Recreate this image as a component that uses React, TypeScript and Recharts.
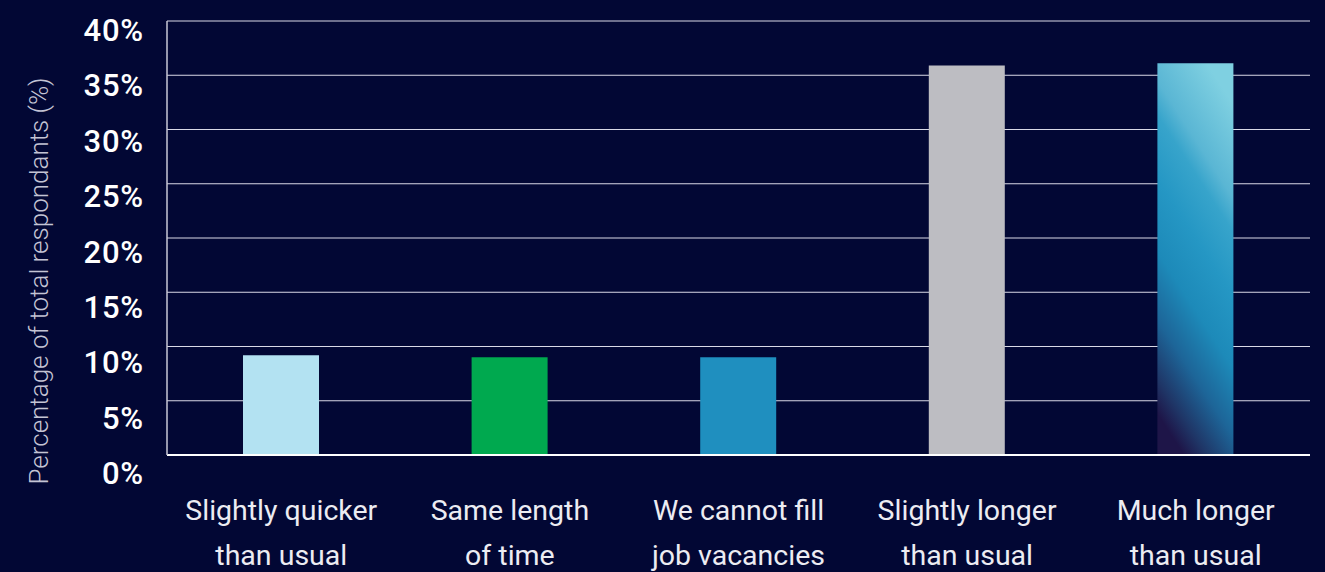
import React from 'react';
import { BarChart, Bar, XAxis, YAxis, CartesianGrid, Cell, Label } from 'recharts';

// Antwortkategorien (zweizeilig beschriftet)
const categories = [
  ['Slightly quicker', 'than usual'],
  ['Same length', 'of time'],
  ['We cannot fill', 'job vacancies'],
  ['Slightly longer', 'than usual'],
  ['Much longer', 'than usual'],
];

// Anteil der Befragten in Prozent
const shares = [9.2, 9.0, 9.0, 35.9, 36.1];

const barColors = ['#b3e2f2', '#00a94f', '#1f8fbf', '#bdbdc2', 'url(#longGradient)'];

const yTicks = [0, 5, 10, 15, 20, 25, 30, 35, 40];

const data = categories.map((c, i) => ({ name: c.join(' '), lines: c, value: shares[i] }));

const BG = '#020734';
const FONT = 'Roboto, "Noto Sans", sans-serif';

const XTick = (props: any) => {
  const { x, y, payload } = props;
  const lines = categories[payload.index] || [payload.value];
  return (
    <text x={x} y={y} textAnchor="middle" fill="#ececf2" fontSize={28.5} fontFamily={FONT}>
      {lines.map((l: string, i: number) => (
        <tspan key={i} x={x} y={y + 57 + i * 45}>
          {l}
        </tspan>
      ))}
    </text>
  );
};

const YTick = (props: any) => {
  const { x, y, payload } = props;
  // Beschriftungen sitzen leicht unterhalb der Rasterlinien
  const shift = 29 - (payload.value / 40) * 9;
  return (
    <text x={x} y={y + shift} textAnchor="end" fill="#ffffff" fontSize={31} fontWeight={500} fontFamily={FONT} letterSpacing={0.8}>
      {`${payload.value}%`}
    </text>
  );
};

export default function App() {
  return (
    <div style={{ position: 'absolute', left: 0, top: 0, width: 1325, height: 572, background: BG }}>
      <BarChart width={1325} height={572} data={data} margin={{ top: 21, right: 15, left: 0, bottom: 0 }} barSize={76}>
        <defs>
          <linearGradient id="longGradient" x1="0.35" y1="1" x2="0.65" y2="0">
            <stop offset="0" stopColor="#1e1548" />
            <stop offset="0.08" stopColor="#1f3566" />
            <stop offset="0.22" stopColor="#1d6598" />
            <stop offset="0.38" stopColor="#1d8ab9" />
            <stop offset="0.55" stopColor="#2597c4" />
            <stop offset="0.7" stopColor="#37a4cb" />
            <stop offset="0.78" stopColor="#5ab6d4" />
            <stop offset="1" stopColor="#7fd0e1" />
          </linearGradient>
        </defs>
        <CartesianGrid vertical={false} stroke="#d9d9e6" strokeWidth={1} />
        <XAxis
          dataKey="name"
          height={117}
          interval={0}
          tickLine={false}
          axisLine={{ stroke: '#ffffff', strokeWidth: 2 }}
          tick={<XTick />}
        />
        <YAxis
          width={167}
          domain={[0, 40]}
          ticks={yTicks}
          interval={0}
          tickLine={false}
          axisLine={{ stroke: '#c8c8d6', strokeWidth: 1.5 }}
          tick={<YTick />}
          tickMargin={17}
        >
          <Label
            value="Percentage of total respondants (%)"
            angle={-90}
            position="insideLeft"
            dx={34}
            dy={43}
            style={{ fill: '#c4c4d4', fontSize: 26, fontWeight: 300, fontFamily: FONT, textAnchor: 'middle' }}
          />
        </YAxis>
        <Bar dataKey="value" isAnimationActive={false}>
          {data.map((d, i) => (
            <Cell key={d.name} fill={barColors[i]} />
          ))}
        </Bar>
      </BarChart>
    </div>
  );
}
